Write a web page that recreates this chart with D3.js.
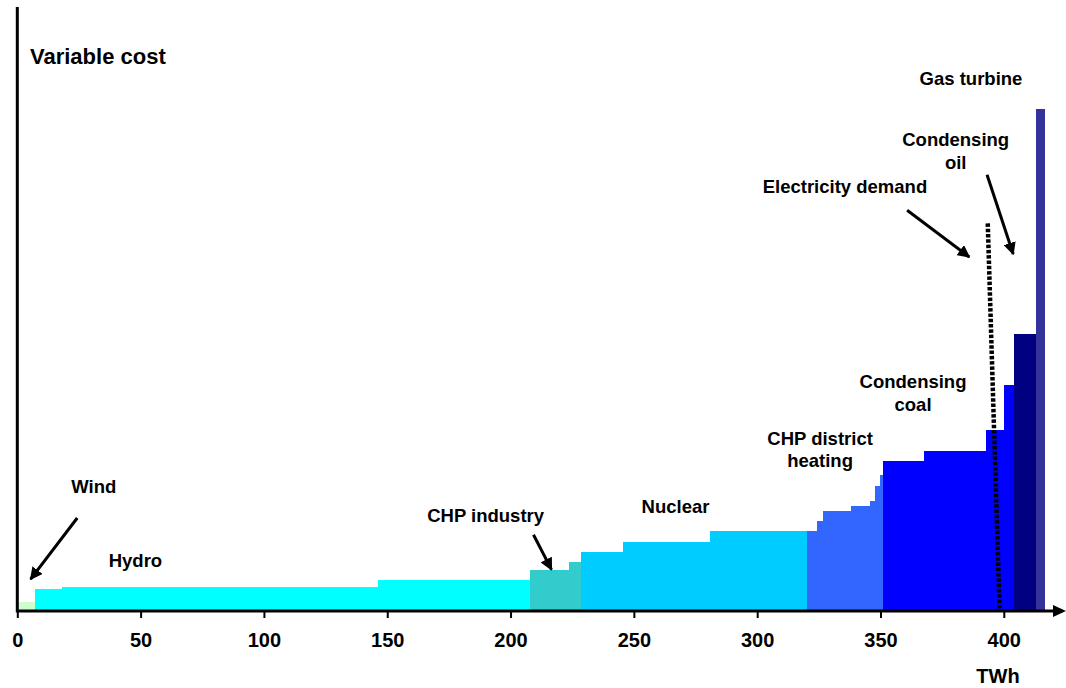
<!DOCTYPE html>
<html><head><meta charset="utf-8">
<script src="https://cdn.jsdelivr.net/npm/d3@7"></script>
<style>
html,body{margin:0;padding:0;background:#fff;}
svg{display:block;font-family:"Liberation Sans",Arial,sans-serif;font-weight:bold;}
</style></head>
<body>
<svg id="chart" width="1066" height="688"></svg>
<script>
// ---- data ----
const technologies = ["Wind","Hydro","CHP industry","Nuclear","CHP district heating","Condensing coal","Condensing oil","Gas turbine"];
const techColors   = ["#ccffcc","#00ffff","#33cccc","#00ccff","#3366ff","#0000ff","#000080","#333399"];
// merit-order blocks: technology, capacity (TWh), variable cost (arbitrary units)
const blockTech = ["Wind","Hydro","Hydro","Hydro","CHP industry","CHP industry","Nuclear","Nuclear","Nuclear",
  "CHP district heating","CHP district heating","CHP district heating","CHP district heating","CHP district heating","CHP district heating","CHP district heating",
  "Condensing coal","Condensing coal","Condensing coal","Condensing coal","Condensing oil","Gas turbine"];
const blockTWh  = [7, 11, 128.3, 61.7, 15.5, 5, 17, 35.5, 39.3, 4, 2.2, 11.5, 7.8, 2, 2, 1.4, 16.5, 25, 7.4, 4.2, 8.8, 3.4];
const blockCost = [1.55, 3.6, 4.05, 5.15, 6.85, 8.2, 9.9, 11.55, 13.3, 13.35, 15.05, 16.7, 17.55, 18.4, 20.9, 22.65, 25.05, 26.7, 30.15, 37.65, 46.15, 83.6];
const xTicks = [0, 50, 100, 150, 200, 250, 300, 350, 400];
const demandLine = [{twh: 393.5, cost: 64.6}, {twh: 398.3, cost: 0}];
const labelText  = [["Wind"],["Hydro"],["CHP industry"],["Nuclear"],["CHP district","heating"],["Condensing","coal"],["Electricity demand"],["Condensing","oil"],["Gas turbine"]];
const labelTWh   = [31.0, 47.9, 189.9, 266.9, 325.5, 363.2, 335.6, 380.5, 386.7];
const labelCost  = [19.6, 7.3, 14.8, 16.4, 27.7, 37.1, 69.6, 77.5, 87.7];
const arrowFrom  = [[24.3, 15.5], [209.3, 12.7], [360.8, 66.8], [393.2, 72.7]];
const arrowTo    = [[5.4, 5.3], [216.6, 6.9], [386.0, 59.0], [403.8, 59.5]];

// ---- layout ----
const svg = d3.select("#chart");
const x = d3.scaleLinear().domain([0, 400]).range([17.3, 1003.8]);
const y = d3.scaleLinear().domain([0, 100]).range([611, 11]);
const color = d3.scaleOrdinal().domain(technologies).range(techColors);

let cum = 0;
const blocks = blockTWh.map((w, i) => { const b = {tech: blockTech[i], x0: cum, x1: cum + w, cost: blockCost[i]}; cum += w; return b; });

svg.append("defs").append("marker")
  .attr("id","ah").attr("viewBox","0 0 10 10").attr("refX",9).attr("refY",5)
  .attr("markerWidth",4.2).attr("markerHeight",4.2).attr("markerUnits","strokeWidth").attr("orient","auto")
  .append("path").attr("d","M0,0 L10,5 L0,10 Z").attr("fill","#000");

svg.append("g").attr("shape-rendering","crispEdges").selectAll("rect").data(blocks).join("rect")
  .attr("x", d => x(d.x0))
  .attr("width", d => x(d.x1) - x(d.x0) + 0.6)
  .attr("y", d => y(d.cost))
  .attr("height", d => y(0) - y(d.cost))
  .attr("fill", d => color(d.tech));

// demand line
svg.append("path")
  .attr("d", d3.line().x(d => x(d.twh)).y(d => y(d.cost))(demandLine))
  .attr("stroke","#000").attr("stroke-width",4.5).attr("stroke-dasharray","3.5,1.8").attr("fill","none");

// axes
const xAxis = d3.axisBottom(x).tickValues(xTicks).tickSize(7).tickFormat(d3.format("d"));
const gx = svg.append("g").attr("transform", `translate(0,${y(0)})`).call(xAxis);
gx.select(".domain").remove();
gx.selectAll(".tick line").attr("stroke","#000").attr("stroke-width",2);
gx.selectAll(".tick text").attr("y",22).attr("dy","0.71em").attr("font-size",20)
  .attr("font-family","Liberation Sans, Arial, sans-serif").attr("font-weight","bold").attr("fill","#000");

svg.append("line").attr("x1", x(0)).attr("x2", 1056).attr("y1", y(0)).attr("y2", y(0))
  .attr("stroke","#000").attr("stroke-width",3);
svg.append("path").attr("d", `M1066,${y(0)} L1053,${y(0)-6} L1053,${y(0)+6} Z`).attr("fill","#000");
svg.append("line").attr("x1", x(0)).attr("x2", x(0)).attr("y1", 7).attr("y2", y(0)+1.5)
  .attr("stroke","#000").attr("stroke-width",3);

svg.append("text").attr("x",30).attr("y",64).attr("font-size",22).attr("fill","#000").text("Variable cost");
svg.append("text").attr("x",998).attr("y",683).attr("text-anchor","middle").attr("font-size",20).attr("fill","#000").text("TWh");

// labels
const lab = svg.append("g").attr("font-size",18.5).attr("fill","#000").attr("text-anchor","middle");
labelText.forEach((lines, i) => {
  const t = lab.append("text").attr("x", x(labelTWh[i])).attr("y", y(labelCost[i]));
  lines.forEach((s, j) => t.append("tspan").attr("x", x(labelTWh[i])).attr("dy", j === 0 ? 0 : 22.5).text(s));
});

// arrows
svg.append("g").selectAll("line").data(arrowFrom).join("line")
  .attr("x1", d => x(d[0])).attr("y1", d => y(d[1]))
  .attr("x2", (d, i) => x(arrowTo[i][0])).attr("y2", (d, i) => y(arrowTo[i][1]))
  .attr("stroke","#000").attr("stroke-width",3).attr("marker-end","url(#ah)");
</script>
</body></html>
